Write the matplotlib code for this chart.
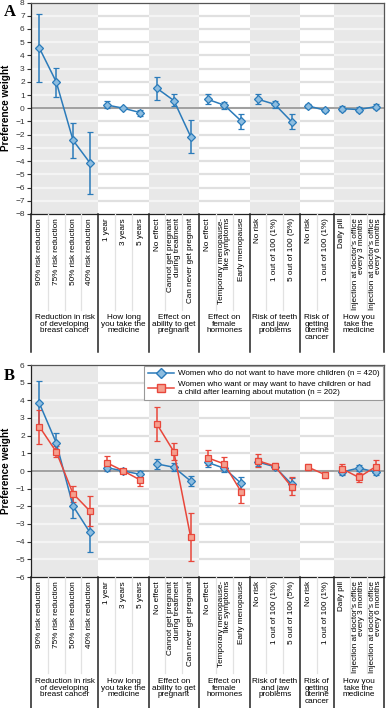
import numpy as np
import matplotlib
matplotlib.use("Agg")
import matplotlib.pyplot as plt
from matplotlib.lines import Line2D

plt.rcParams.update({
    "font.family": "Liberation Sans",
    "font.size": 6,
})

# ---- data ---------------------------------------------------------------
groups = [
    "Reduction in risk\nof developing\nbreast cancer",
    "How long\nyou take the\nmedicine",
    "Effect on\nability to get\npregnant",
    "Effect on\nfemale\nhormones",
    "Risk of teeth\nand jaw\nproblems",
    "Risk of\ngetting\nuterine\ncancer",
    "How you\ntake the\nmedicine",
]
group_sizes = [4, 3, 3, 3, 3, 2, 3]
categories = [
    "90% risk reduction", "75% risk reduction", "50% risk reduction", "40% risk reduction",
    "1 year", "3 years", "5 years",
    "No effect", "Cannot get pregnant\nduring treatment", "Can never get pregnant",
    "No effect", "Temporary menopause-\nlike symptoms", "Early menopause",
    "No risk", "1 out of 100 (1%)", "5 out of 100 (5%)",
    "No risk", "1 out of 100 (1%)",
    "Daily pill", "Injection at doctor's office\nevery 3 months",
    "Injection at doctor's office\nevery 6 months",
]

# panel A: all respondents
a_val = [4.55, 2.0, -2.42, -4.12, 0.25, 0.0, -0.33, 1.5, 0.58, -2.15,
         0.68, 0.23, -0.96, 0.68, 0.3, -1.01, 0.17, -0.15, -0.03, -0.1, 0.12]
a_lo = [2.0, 0.83, -3.77, -6.5, 0.0, 0.0, -0.55, 0.63, 0.17, -3.41,
        0.3, -0.03, -1.55, 0.3, 0.05, -1.6, 0.05, -0.28, -0.2, -0.3, -0.05]
a_hi = [7.14, 3.05, -1.09, -1.8, 0.55, 0.0, -0.1, 2.4, 1.06, -0.91,
        1.08, 0.5, -0.45, 1.08, 0.55, -0.43, 0.3, -0.02, 0.15, 0.1, 0.3]

# panel B: women who do not want more children (n = 420)
b1_val = [3.83, 1.6, -1.98, -3.47, 0.19, 0.0, -0.19, 0.4, 0.21, -0.57,
          0.49, 0.15, -0.7, 0.51, 0.24, -0.74, np.nan, np.nan, -0.06, 0.17, -0.06]
b1_lo = [2.57, 1.03, -2.66, -4.6, 0.0, -0.1, -0.35, 0.11, 0.0, -0.85,
         0.24, -0.05, -1.04, 0.27, 0.1, -1.1, np.nan, np.nan, -0.2, 0.0, -0.2]
b1_hi = [5.09, 2.17, -1.3, -2.35, 0.4, 0.1, -0.02, 0.66, 0.45, -0.3,
         0.75, 0.35, -0.36, 0.75, 0.38, -0.4, np.nan, np.nan, 0.1, 0.35, 0.1]

# panel B: women who want or may want children (n = 202)
b2_val = [2.51, 1.09, -1.28, -2.26, 0.47, 0.0, -0.51, 2.64, 1.09, -3.75,
          0.75, 0.4, -1.17, 0.58, 0.28, -0.89, 0.21, -0.21, 0.13, -0.36, 0.24]
b2_lo = [1.53, 0.77, -1.75, -3.11, 0.06, -0.08, -0.85, 1.7, 0.6, -5.07,
         0.32, 0.05, -1.8, 0.24, 0.12, -1.36, 0.05, -0.38, -0.15, -0.65, -0.1]
b2_hi = [3.45, 1.41, -0.83, -1.4, 0.85, 0.08, -0.2, 3.64, 1.58, -2.4,
         1.19, 0.77, -0.6, 0.96, 0.44, -0.36, 0.38, -0.05, 0.4, -0.1, 0.62]

legend_labels = [
    "Women who do not want to have more children (n = 420)",
    "Women who want or may want to have children or had\n"
    "a child after learning about mutation (n = 202)",
]

BLUE, BLUE_FILL = "#2b7bba", "#8dbde0"
RED, RED_FILL = "#e8473b", "#f5a08f"
BAND = "#e8e8e8"

W, H = 387, 708
fig = plt.figure(figsize=(W / 100, H / 100), dpi=100)

n = len(categories)
x = np.arange(n)
starts = np.cumsum([0] + group_sizes[:-1])
bounds = [s - 0.5 for s in starts] + [n - 0.5]


def px_axes(left, top, right, bottom):
    return fig.add_axes([left / W, 1 - bottom / H, (right - left) / W, (bottom - top) / H])


def draw_plot(ax, ymin, ymax):
    ax.set_xlim(-0.5, n - 0.5)
    ax.set_ylim(ymin, ymax)
    for gi, s in enumerate(starts):
        x0, x1 = s - 0.5, s + group_sizes[gi] - 0.5
        shaded = gi % 2 == 0
        if shaded:
            ax.axvspan(x0, x1, color=BAND, lw=0, zorder=0)
        ax.hlines(np.arange(ymin + 1, ymax), x0, x1,
                  colors="#f4f4f4" if shaded else "#e0e0e0", lw=1.6, zorder=0.5)
    ax.axhline(0, color="#9a9a9a", lw=1.3, zorder=0.8)
    ax.set_xticks([])
    ax.set_yticks(np.arange(ymin, ymax + 1))
    ax.tick_params(axis="y", length=3, width=0.8, pad=1.5, labelsize=6,
                   labelcolor="#333333", color="#333333")
    for sp in ax.spines.values():
        sp.set_color("#555555")
        sp.set_linewidth(0.9)
    ax.spines["left"].set_color("#222222")
    ax.spines["bottom"].set_color("#222222")
    ax.set_ylabel("Preference weight", fontsize=7.2, fontweight="bold", labelpad=3)


def draw_series(ax, val, lo, hi, color, fill, marker, ms):
    val, lo, hi = np.array(val), np.array(lo), np.array(hi)
    for gi, s in enumerate(starts):
        sl = slice(s, s + group_sizes[gi])
        ax.errorbar(x[sl], val[sl], yerr=[val[sl] - lo[sl], hi[sl] - val[sl]],
                    color=color, lw=1.1, elinewidth=1.1, capsize=2.4, capthick=1.1,
                    marker=marker, ms=ms, mfc=fill, mec=color, mew=0.9, zorder=3)


def draw_labels(ax, height, light_end, group_top):
    ax.set_xlim(-0.5, n - 0.5)
    ax.set_ylim(height, 0)
    ax.axis("off")
    for b in bounds:
        ax.plot([b, b], [0, height], color="#222222", lw=1.1, clip_on=False)
    for gi, s in enumerate(starts):
        for k in range(1, group_sizes[gi]):
            ax.plot([s + k - 0.5] * 2, [0, light_end], color="#e2e2e2", lw=0.9)
        ax.text(s + (group_sizes[gi] - 1) / 2, group_top, groups[gi],
                ha="center", va="top", fontsize=5.9, linespacing=0.92)
    for i, c in enumerate(categories):
        ax.text(i, 4, c, rotation=90, ha="center", va="top",
                multialignment="right", fontsize=5.9, linespacing=0.85)


# ---- panel A ------------------------------------------------------------
axA = px_axes(31, 2.5, 384, 214)
draw_plot(axA, -8, 8)
draw_series(axA, a_val, a_lo, a_hi, BLUE, BLUE_FILL, "D", 4.4)
labA = px_axes(31, 214, 384, 352)
draw_labels(labA, 138, 96, 100)

# ---- panel B ------------------------------------------------------------
axB = px_axes(31, 365, 384, 577)
draw_plot(axB, -6, 6)
draw_series(axB, b1_val, b1_lo, b1_hi, BLUE, BLUE_FILL, "D", 4.4)
draw_series(axB, b2_val, b2_lo, b2_hi, RED, RED_FILL, "s", 4.2)
handles = [
    Line2D([], [], color=BLUE, lw=1.1, marker="D", ms=5.5, mfc=BLUE_FILL, mec=BLUE),
    Line2D([], [], color=RED, lw=1.1, marker="s", ms=5.5, mfc=RED_FILL, mec=RED),
]
leg = axB.legend(handles, legend_labels, loc="upper right", fontsize=5.8,
                 frameon=True, fancybox=False, framealpha=1, edgecolor="#999999",
                 borderaxespad=0.15, handlelength=3.2, handletextpad=0.5,
                 labelspacing=0.45, borderpad=0.45)
leg.get_frame().set_linewidth(0.8)
leg.set_zorder(5)
labB = px_axes(31, 577, 384, 708)
draw_labels(labB, 131, 96, 101)

# panel letters
fig.text(4 / W, 1 - 12 / H, "A", family="Liberation Serif", fontweight="bold",
         fontsize=12, va="center", ha="left")
fig.text(4 / W, 1 - 376 / H, "B", family="Liberation Serif", fontweight="bold",
         fontsize=12, va="center", ha="left")

fig.savefig("out.png", dpi=100)
